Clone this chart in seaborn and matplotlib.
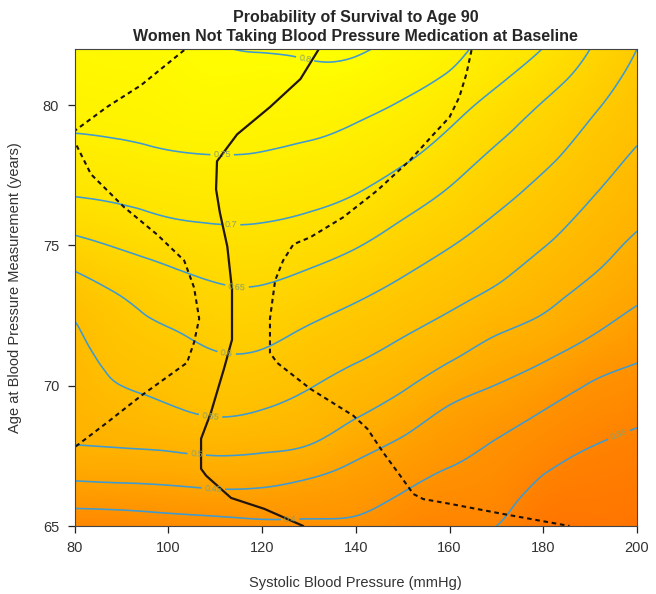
import numpy as np
import matplotlib
matplotlib.use("Agg")
import matplotlib.pyplot as plt
import matplotlib.tri as mtri
from matplotlib.colors import LinearSegmentedColormap
import seaborn as sns

# ---------------- data ----------------
sbp_grid = [80, 90, 100, 110, 120, 130, 140, 150, 160, 170, 180, 190, 200]
age_grid = [65, 66, 67, 68, 69, 70, 71, 72, 73, 74, 75, 76, 77, 78, 79, 80, 81, 82]

# estimated survival probability at each age (65..82) for each SBP column
surv_sbp080 = [0.365, 0.420, 0.468, 0.502, 0.513, 0.523, 0.534, 0.545, 0.566, 0.597, 0.636, 0.674, 0.707, 0.728, 0.750, 0.762, 0.772, 0.780]
surv_sbp090 = [0.369, 0.423, 0.471, 0.506, 0.528, 0.550, 0.565, 0.580, 0.596, 0.623, 0.655, 0.687, 0.713, 0.734, 0.754, 0.766, 0.776, 0.785]
surv_sbp100 = [0.376, 0.428, 0.474, 0.512, 0.542, 0.563, 0.580, 0.598, 0.620, 0.643, 0.671, 0.700, 0.720, 0.741, 0.761, 0.772, 0.781, 0.790]
surv_sbp110 = [0.381, 0.434, 0.480, 0.519, 0.553, 0.574, 0.595, 0.615, 0.636, 0.657, 0.682, 0.705, 0.725, 0.745, 0.765, 0.778, 0.790, 0.798]
surv_sbp120 = [0.389, 0.434, 0.477, 0.514, 0.546, 0.570, 0.593, 0.615, 0.637, 0.659, 0.682, 0.704, 0.724, 0.744, 0.760, 0.773, 0.787, 0.802]
surv_sbp130 = [0.391, 0.426, 0.463, 0.504, 0.529, 0.553, 0.574, 0.596, 0.621, 0.646, 0.671, 0.696, 0.716, 0.736, 0.755, 0.773, 0.790, 0.806]
surv_sbp140 = [0.391, 0.416, 0.441, 0.472, 0.505, 0.530, 0.555, 0.578, 0.601, 0.627, 0.653, 0.679, 0.704, 0.724, 0.743, 0.763, 0.784, 0.806]
surv_sbp150 = [0.369, 0.395, 0.420, 0.445, 0.475, 0.506, 0.532, 0.557, 0.580, 0.603, 0.627, 0.652, 0.678, 0.704, 0.725, 0.746, 0.766, 0.786]
surv_sbp160 = [0.354, 0.376, 0.398, 0.420, 0.442, 0.472, 0.505, 0.533, 0.559, 0.581, 0.602, 0.625, 0.648, 0.672, 0.696, 0.720, 0.745, 0.765]
surv_sbp170 = [0.350, 0.366, 0.382, 0.398, 0.423, 0.449, 0.477, 0.506, 0.535, 0.559, 0.578, 0.597, 0.617, 0.637, 0.659, 0.682, 0.710, 0.730]
surv_sbp180 = [0.312, 0.333, 0.354, 0.376, 0.397, 0.426, 0.455, 0.485, 0.510, 0.531, 0.552, 0.571, 0.589, 0.608, 0.628, 0.647, 0.673, 0.699]
surv_sbp190 = [0.308, 0.322, 0.337, 0.354, 0.376, 0.397, 0.427, 0.457, 0.480, 0.503, 0.521, 0.539, 0.557, 0.574, 0.591, 0.610, 0.630, 0.650]
surv_sbp200 = [0.302, 0.315, 0.328, 0.341, 0.361, 0.382, 0.405, 0.430, 0.453, 0.472, 0.491, 0.509, 0.525, 0.541, 0.557, 0.571, 0.586, 0.600]

contour_levels = [0.35, 0.40, 0.45, 0.50, 0.55, 0.60, 0.65, 0.70, 0.75, 0.80]

# optimal SBP by age (solid line)
opt_sbp = [132.5, 128.2, 121.7, 114.7, 110.4, 110.2, 111.0, 112.6, 113.6, 113.6, 111.9, 109.1, 107.0, 107.0, 108.1, 113.4, 120.5, 128.8]
opt_age = [82.1, 80.93, 79.93, 78.96, 78.0, 77.0, 76.18, 74.96, 73.43, 71.64, 70.61, 69.04, 68.11, 67.04, 66.79, 66.0, 65.61, 65.0]

# lower confidence bound (dashed, left)
low_sbp = [103.4, 94.2, 86.9, 80.5, 78.5, 80.3, 83.5, 90.6, 97.6, 103.4, 105.5, 106.6, 105.5, 104.0, 94.2, 86.9, 79.9]
low_age = [81.96, 80.71, 79.93, 79.14, 78.9, 78.61, 77.54, 76.36, 75.39, 74.46, 73.5, 72.39, 71.54, 70.82, 69.64, 68.68, 67.79]

# upper confidence bound (dashed, right)
up_sbp = [164.7, 163.6, 162.1, 160.0, 156.6, 151.6, 144.6, 137.3, 130.3, 126.7, 124.5, 122.8, 121.7, 121.7, 123.2,
          130.3, 139.5, 142.5, 145.9, 149.5, 152.3, 154.4, 160.1, 171.4, 185.6]
up_age = [81.96, 81.11, 80.29, 79.57, 78.96, 78.04, 76.96, 76.0, 75.29, 75.04, 74.46, 73.75, 72.39, 71.18, 70.82,
          69.89, 68.93, 68.46, 67.61, 66.79, 66.14, 65.96, 65.79, 65.43, 65.0]

x_ticks = [80, 100, 120, 140, 160, 180, 200]
y_ticks = [65, 70, 75, 80]

# label anchor spots for contour labels (sbp, age)
label_spots = [(129.0, 81.5), (111.5, 78.2), (113.4, 75.7), (114.7, 73.6), (112.4, 71.1),
               (109.0, 68.9), (106.0, 67.4), (109.6, 66.3), (126.0, 65.2), (196.3, 68.2)]

# ---------------- figure ----------------
sns.set_theme(style="ticks")
plt.rcParams["font.family"] = ["Liberation Sans", "DejaVu Sans"]

fig = plt.figure(figsize=(6.56, 5.94), dpi=100)
ax = fig.add_axes([74.5 / 656, 1 - 526 / 594, (637 - 74.5) / 656, (526 - 49) / 594])

cols = [surv_sbp080, surv_sbp090, surv_sbp100, surv_sbp110, surv_sbp120, surv_sbp130, surv_sbp140,
        surv_sbp150, surv_sbp160, surv_sbp170, surv_sbp180, surv_sbp190, surv_sbp200]
Z = np.column_stack(cols)  # shape (n_age, n_sbp)
nx, ny = len(sbp_grid), len(age_grid)
gx = np.tile(np.asarray(sbp_grid, float), ny)
gy = np.repeat(np.asarray(age_grid, float), nx)
tris = []
for j in range(ny - 1):
    for i in range(nx - 1):
        a = j * nx + i
        b, c, d = a + 1, a + nx, a + nx + 1
        tris.append([a, b, d])
        tris.append([a, d, c])
tri = mtri.Triangulation(gx / 10.0, gy, np.array(tris))
refiner = mtri.UniformTriRefiner(tri)
tri_r, z_r = refiner.refine_field(Z.ravel(), subdiv=4)
tri_plot = mtri.Triangulation(tri_r.x * 10.0, tri_r.y, tri_r.triangles)

cmap = LinearSegmentedColormap.from_list("heat", ["#FF7300", "#FFAA00", "#FFD500", "#FFFF00"])
ax.tripcolor(tri_plot, z_r, shading="gouraud", cmap=cmap, vmin=0.30, vmax=0.81, rasterized=True)

cs = ax.tricontour(tri_plot, z_r, levels=contour_levels, colors="#3d9ad2", linewidths=1.15)
ax.clabel(cs, manual=label_spots, inline=True, inline_spacing=3, fontsize=6.5, fmt="%g", colors="#86a070")

sns.lineplot(x=opt_sbp, y=opt_age, sort=False, estimator=None, color="#22150c", lw=1.6, ax=ax)
sns.lineplot(x=low_sbp, y=low_age, sort=False, estimator=None, color="#1a1208", lw=1.5,
             linestyle=(0, (2.2, 1.8)), ax=ax)
sns.lineplot(x=up_sbp, y=up_age, sort=False, estimator=None, color="#1a1208", lw=1.5,
             linestyle=(0, (2.2, 1.8)), ax=ax)

ax.set_xlim(80, 200)
ax.set_ylim(65, 82)
ax.set_xticks(x_ticks)
ax.set_yticks(y_ticks)
ax.tick_params(axis="both", direction="out", length=5, width=0.9, color="#222222",
               labelsize=10.5, pad=6, labelcolor="#333333")
for s in ax.spines.values():
    s.set_linewidth(0.8)
    s.set_color("#444444")

ax.set_xlabel("Systolic Blood Pressure (mmHg)", fontsize=10.5, labelpad=15, color="#333333")
ax.set_ylabel("Age at Blood Pressure Measurement (years)", fontsize=10.5, labelpad=15, color="#333333")
ax.set_title("Probability of Survival to Age 90\nWomen Not Taking Blood Pressure Medication at Baseline",
             fontsize=11.5, fontweight="bold", pad=6, linespacing=1.3)

fig.savefig("out.png", dpi=100)
